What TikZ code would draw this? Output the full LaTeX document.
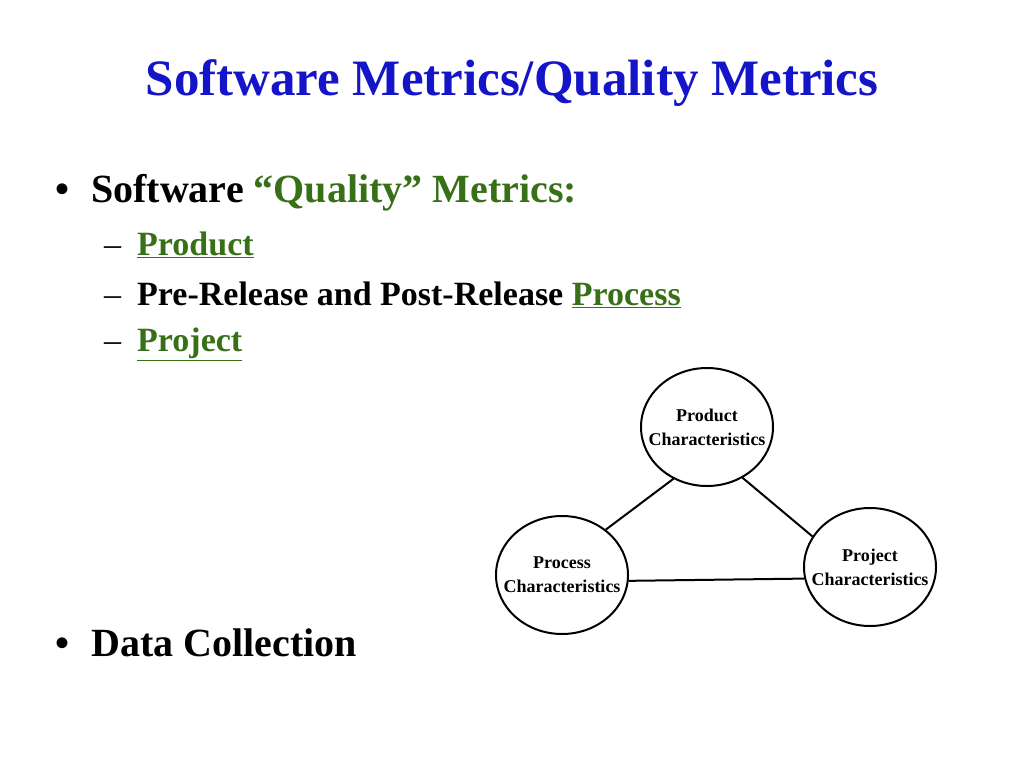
\documentclass[tikz,border=0pt]{standalone}
\usepackage{fontspec}
\setmainfont{Liberation Serif}
\usetikzlibrary{shapes.geometric}
\definecolor{tblue}{RGB}{20,20,200}
\definecolor{tgreen}{RGB}{56,112,24}
\tikzset{
 circ/.style={draw,line width=2pt,ellipse,minimum width=132pt,minimum height=118pt,inner xsep=-17pt,inner ysep=0pt,align=center,font=\fontsize{18}{24}\selectfont\bfseries},
 conn/.style={line width=2pt},
 txt/.style={anchor=west,inner sep=0pt}
}
\begin{document}
\begin{tikzpicture}[x=1pt,y=-1pt]
\useasboundingbox (0,0) rectangle (1024,768);
\node[font=\fontsize{51}{56}\selectfont\bfseries,text=tblue] (title) at (512,83) {Software Metrics/Quality Metrics};
\node[txt,font=\fontsize{40}{44}\selectfont\bfseries] (b1) at (55,193) {\textbullet\hspace{22pt}Software \textcolor{tgreen}{“Quality” Metrics:}};
\node[txt,font=\fontsize{34}{38}\selectfont\bfseries] (s1) at (104,245) {\mdseries –\hspace{16pt}\bfseries\textcolor{tgreen}{\underline{Product}}};
\node[txt,font=\fontsize{34}{38}\selectfont\bfseries] (s2) at (104,295) {\mdseries –\hspace{16pt}\bfseries Pre-Release and Post-Release \textcolor{tgreen}{\underline{Process}}};
\node[txt,font=\fontsize{34}{38}\selectfont\bfseries] (s3) at (104,344) {\mdseries –\hspace{16pt}\bfseries\textcolor{tgreen}{\underline{Project}}};
\node[txt,font=\fontsize{40}{44}\selectfont\bfseries] (b2) at (55,643) {\textbullet\hspace{22pt}Data Collection};
\node[circ] (prod) at (707,427) {Product\\Characteristics};
\node[circ] (proc) at (562,575) {Process\\Characteristics};
\node[circ] (proj) at (870,567) {Project\\Characteristics};
\draw[conn] (prod.237) -- (proc.46);
\draw[conn] (prod.305) -- (proj.152);
\draw[conn] (proc.355) -- (proj.190);
\end{tikzpicture}
\end{document}
